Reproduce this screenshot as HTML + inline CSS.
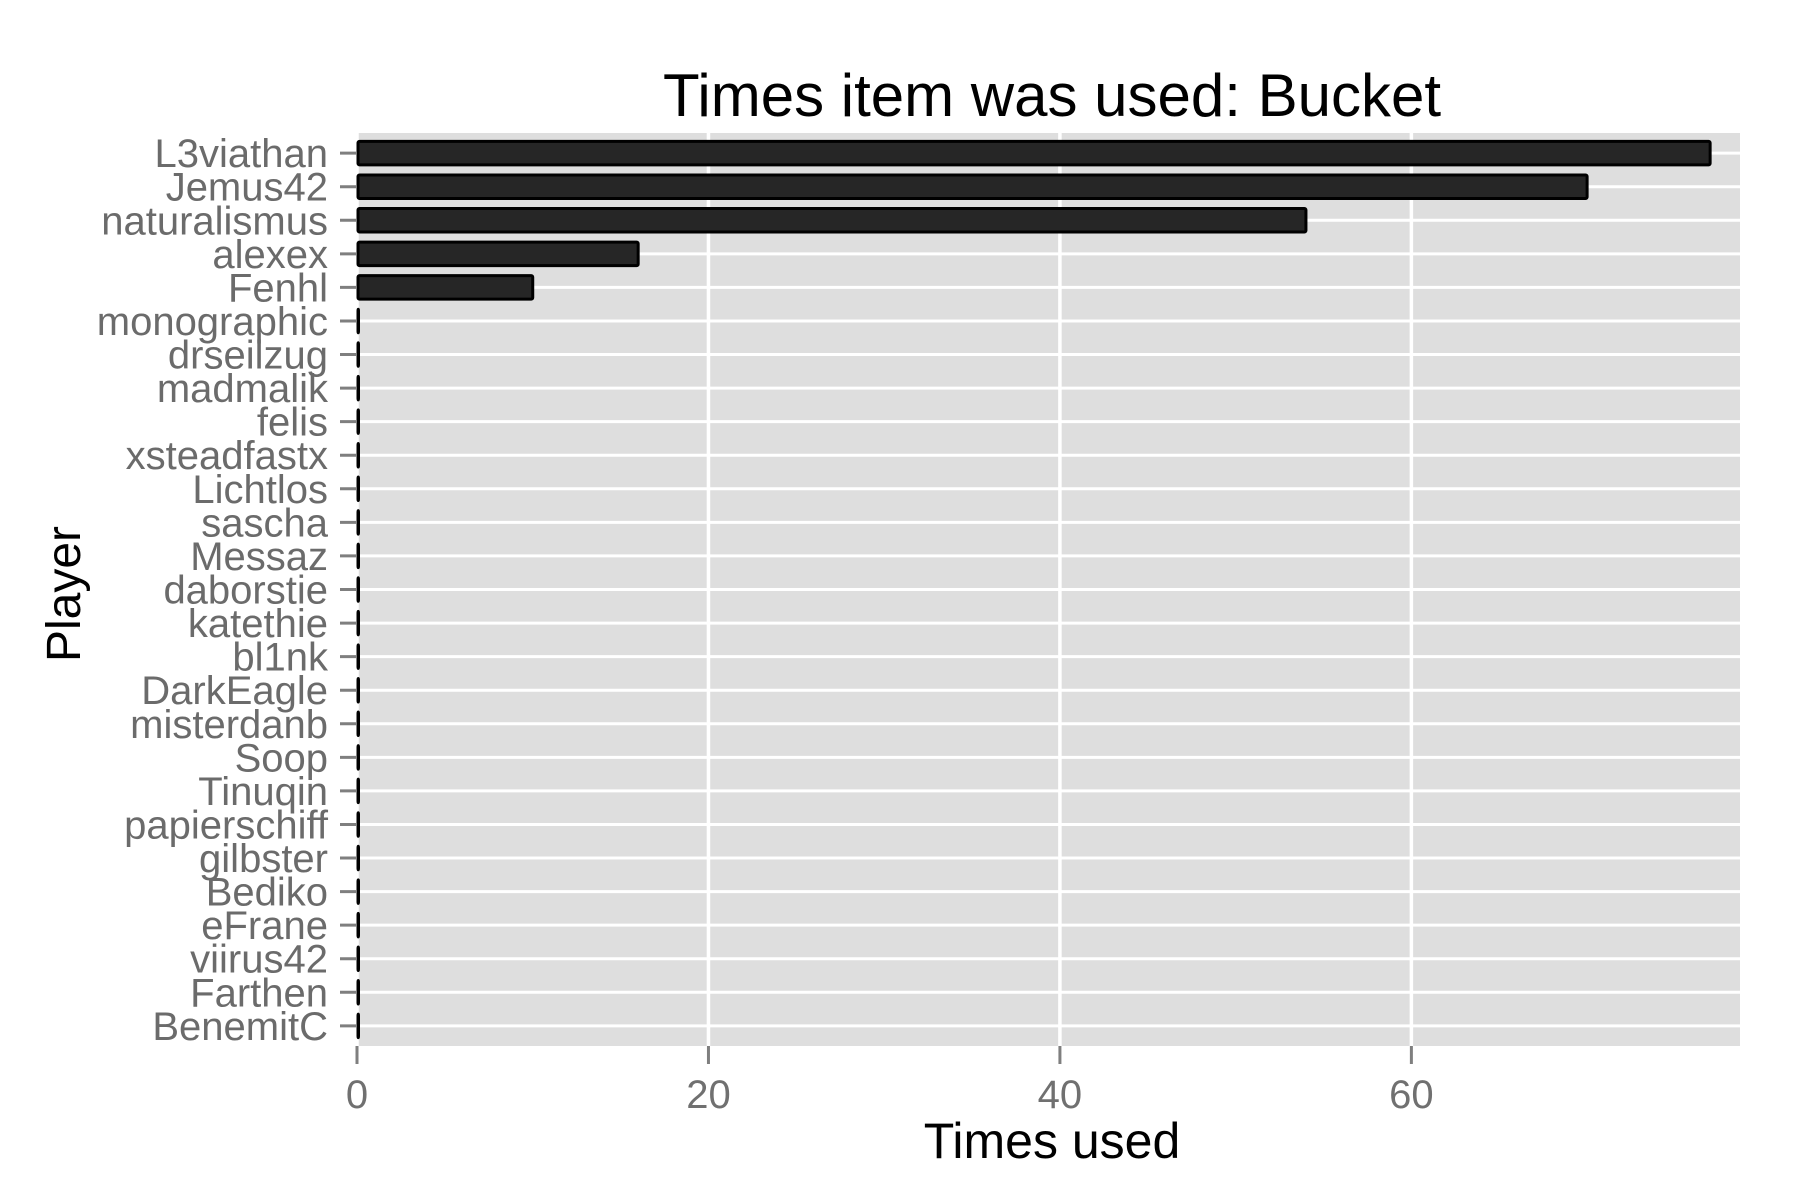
<!DOCTYPE html>
<html><head><meta charset="utf-8"><style>
html,body{margin:0;padding:0;background:#fff}
svg{display:block;font-family:"Liberation Sans",Arial,sans-serif}
</style></head><body>
<svg id="chart" width="1800" height="1200" viewBox="0 0 1800 1200" xmlns="http://www.w3.org/2000/svg">
<rect x="0" y="0" width="1800" height="1200" fill="#ffffff"/>
<rect x="358" y="133" width="1382" height="913" fill="#dedede"/>
<g id="grid"></g>
<g id="bars"></g>
<g id="yaxis"></g>
<g id="xaxis"></g>
<text x="1052" y="116" font-size="60" text-anchor="middle" fill="#000">Times item was used: Bucket</text>
<text x="1052" y="1158" font-size="50" text-anchor="middle" fill="#000">Times used</text>
<text x="0" y="0" font-size="48" text-anchor="middle" fill="#000" transform="translate(80,594) rotate(-90)">Player</text>
</svg>
<script>
const players = ["L3viathan","Jemus42","naturalismus","alexex","Fenhl","monographic","drseilzug","madmalik","felis","xsteadfastx","Lichtlos","sascha","Messaz","daborstie","katethie","bl1nk","DarkEagle","misterdanb","Soop","Tinuqin","papierschiff","gilbster","Bediko","eFrane","viirus42","Farthen","BenemitC"];
const timesUsed = [77,70,54,16,10,0,0,0,0,0,0,0,0,0,0,0,0,0,0,0,0,0,0,0,0,0,0];
const xTicks = [0,20,40,60];
const xTickLabels = ["0","20","40","60"];

const NS="http://www.w3.org/2000/svg";
const pLeft=357, pRight=1740, pTop=133, pBottom=1046;
const xMax=78.7;
function xs(v){return pLeft+(v/xMax)*(pRight-pLeft);}
const nCat=players.length;
const step=(pBottom-pTop)/(nCat-1+1.2);
function ys(i){return pTop+(0.6+i)*step;}
function mk(tag,attrs,parent){const e=document.createElementNS(NS,tag);for(const k in attrs)e.setAttribute(k,attrs[k]);parent.appendChild(e);return e;}
const grid=document.getElementById('grid'), bars=document.getElementById('bars'), ya=document.getElementById('yaxis'), xa=document.getElementById('xaxis');
players.forEach((p,i)=>{
  const g=mk('line',{x1:358,x2:pRight,y1:ys(i),y2:ys(i),stroke:'#ffffff','stroke-width':3},grid);
  
  
});
xTicks.forEach((t,i)=>{
  const g=mk('line',{x1:xs(t),x2:xs(t),y1:pTop,y2:pBottom,stroke:'#ffffff','stroke-width':3.5},grid);
  
  
  const tk=mk('line',{x1:xs(t),x2:xs(t),y1:pBottom,y2:pBottom+18,stroke:'#7f7f7f','stroke-width':3},xa);
  
  
  const lb=mk('text',{x:xs(t),y:pBottom+62,'font-size':40,'text-anchor':'middle',fill:'#707070'},xa);
  lb.textContent=xTickLabels[i];
  
  
});
const bh=step*0.7;
players.forEach((p,i)=>{
  const w=xs(timesUsed[i])-xs(0);
  const r=mk('rect',{x:xs(0)+1,y:ys(i)-bh/2,width:Math.max(w-1,0.5),height:bh,fill:'#262626',stroke:'#000','stroke-width':3,rx:1.5},bars);
  
  
  const tk=mk('line',{x1:340,x2:357,y1:ys(i),y2:ys(i),stroke:'#7f7f7f','stroke-width':3},ya);
  
  
  const lb=mk('text',{x:328,y:ys(i)+14,'font-size':40,'text-anchor':'end',fill:'#6b6b6b'},ya);
  lb.textContent=p;
  
  
});
</script>
</body></html>
